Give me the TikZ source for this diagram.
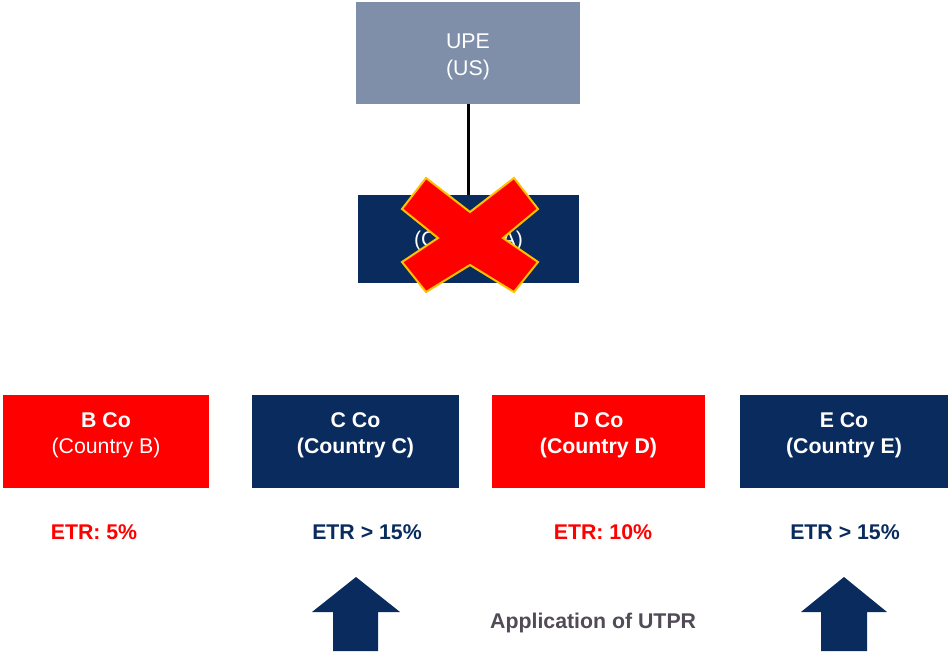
\documentclass[tikz,border=0pt]{standalone}
\usepackage{fontspec}
\setmainfont{Liberation Sans}
\definecolor{navy}{HTML}{0A2B5E}
\definecolor{upegray}{HTML}{7F8FA9}
\definecolor{crossred}{HTML}{FF0000}
\definecolor{crossline}{HTML}{FFC000}
\definecolor{apptext}{HTML}{514A57}
\tikzset{
  entity/.style={draw=none, inner sep=0pt, minimum height=93pt},
  entitytxt/.style={text=white, align=center, font=\fontsize{21.3}{26.5}\selectfont, inner sep=0pt},
  boldtxt/.style={font=\bfseries\fontsize{21.3}{26.5}\selectfont},
  etr/.style={font=\bfseries\fontsize{21.3}{24}\selectfont, inner sep=0pt},
  bigarrow/.style={fill=navy, draw=none},
}
\begin{document}
\begin{tikzpicture}[x=1pt,y=-1pt]
\useasboundingbox (0,0) rectangle (948,651);
% top entities
\node[entity, fill=upegray, minimum width=224pt, minimum height=102pt] (upe) at (468,53) {};
\node[entitytxt] (upetxt) at (468,57) {UPE\\(US)};
\node[entity, fill=navy, minimum width=221pt, minimum height=88pt] (aco) at (468.5,239) {};
\node[entitytxt] (acotxt) at (468.5,241) {(Country A)};
\draw[line width=3pt, black] (upe.south) -- (upe.south |- aco.north);
% cross
\draw[fill=crossred, draw=crossline, line width=2pt, line join=miter]
  (426,178) -- (470,212) -- (514,178) -- (538,209) -- (503,238) -- (538,262)
  -- (514,292) -- (470,265) -- (426,292) -- (402,262) -- (438,238) -- (402,209) -- cycle;
% bottom entities
\node[entity, fill=crossred, minimum width=206pt] (bco) at (106,441.5) {};
\node[entity, fill=navy, minimum width=207pt] (cco) at (355.5,441.5) {};
\node[entity, fill=crossred, minimum width=213pt] (dco) at (598.5,441.5) {};
\node[entity, fill=navy, minimum width=208pt] (eco) at (844,441.5) {};
\node[entitytxt] (btxt) at ([yshift=6pt]bco.center) {\textbf{B Co}\\(Country B)};
\node[entitytxt, boldtxt] (ctxt) at ([yshift=6pt]cco.center) {C Co\\(Country C)};
\node[entitytxt, boldtxt] (dtxt) at ([yshift=6pt]dco.center) {D Co\\(Country D)};
\node[entitytxt, boldtxt] (etxt) at ([yshift=6pt]eco.center) {E Co\\(Country E)};
% ETR labels
\node[etr, text=crossred] (betr) at (94,532) {ETR: 5\%};
\node[etr, text=navy] (cetr) at (367,532) {ETR > 15\%};
\node[etr, text=crossred] (detr) at (603,532) {ETR: 10\%};
\node[etr, text=navy] (eetr) at (845,532) {ETR > 15\%};
% arrows
\fill[bigarrow] (356,577) -- (400,612) -- (378,612) -- (378,651) -- (333,651) -- (333,612) -- (312,612) -- cycle;
\fill[bigarrow] (844,577) -- (887,612) -- (867,612) -- (867,651) -- (821,651) -- (821,612) -- (801,612) -- cycle;
\node[etr, text=apptext, anchor=west] (utpr) at (490,623) {Application of UTPR};
\end{tikzpicture}
\end{document}
